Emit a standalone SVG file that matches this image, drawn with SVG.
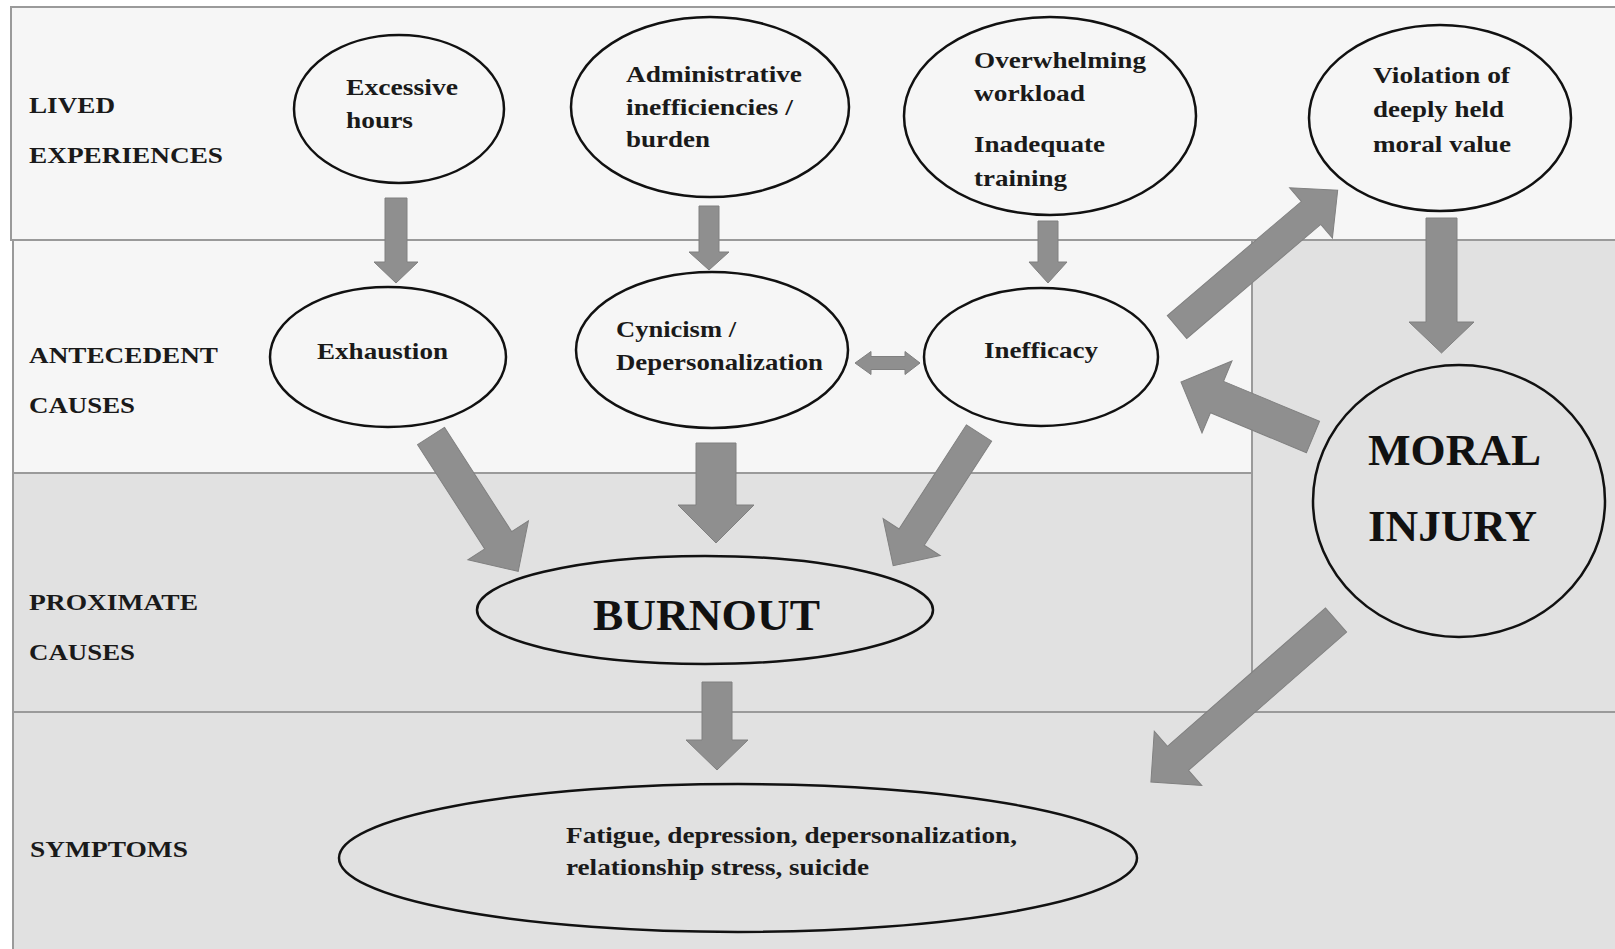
<svg xmlns="http://www.w3.org/2000/svg" width="1615" height="949" viewBox="0 0 1615 949">
<style>
.band-light{fill:#f6f6f6;stroke:#9a9a9a;stroke-width:2}
.band-dark{fill:#e1e1e1;stroke:#9a9a9a;stroke-width:2}
.node{fill:none;stroke:#111;stroke-width:2.5}
.t{font-family:"Liberation Serif","Times New Roman",serif;font-weight:bold;font-size:24px;fill:#1a1a1a}
.big{font-family:"Liberation Serif","Times New Roman",serif;font-weight:bold;font-size:45px;fill:#111}
.arrow{fill:#8f8f8f;stroke:#808080;stroke-width:1}
</style>
<g id="bands">
<rect class="band-light" x="11" y="7" width="1610" height="233"/>
<rect class="band-light" x="13" y="240" width="1239" height="233"/>
<rect class="band-dark" x="13" y="473" width="1239" height="239"/>
<rect class="band-dark" x="1252" y="240" width="370" height="472"/>
<rect class="band-dark" x="13" y="712" width="1610" height="245"/>
</g>
<g id="row-labels">
<text class="t" x="29" y="113" textLength="86" lengthAdjust="spacingAndGlyphs">LIVED</text>
<text class="t" x="29" y="163" textLength="194" lengthAdjust="spacingAndGlyphs">EXPERIENCES</text>
<text class="t" x="29" y="363" textLength="189" lengthAdjust="spacingAndGlyphs">ANTECEDENT</text>
<text class="t" x="29" y="413" textLength="106" lengthAdjust="spacingAndGlyphs">CAUSES</text>
<text class="t" x="29" y="610" textLength="169" lengthAdjust="spacingAndGlyphs">PROXIMATE</text>
<text class="t" x="29" y="660" textLength="106" lengthAdjust="spacingAndGlyphs">CAUSES</text>
<text class="t" x="30" y="857" textLength="158" lengthAdjust="spacingAndGlyphs">SYMPTOMS</text>
</g>
<g id="connectors">
<polygon class="arrow" points="385,198 407,198 407,262 418,262 396,283 374,262 385,262"/>
<polygon class="arrow" points="699,206 719,206 719,252 729,252 709,270 689,252 699,252"/>
<polygon class="arrow" points="1038,221 1058,221 1058,262 1067,262 1048,283 1029,262 1038,262"/>
<polygon class="arrow" points="855,363 871,351.5 871,356.5 905,356.5 905,351.5 920,363 905,374.5 905,369.5 871,369.5 871,374.5"/>
<polygon class="arrow" transform="translate(431,436) rotate(57.2)" points="0,-16 124,-16 124,-36 161,0 124,36 124,16 0,16"/>
<polygon class="arrow" points="696,443 736,443 736,505 754,505 716,543 678,505 696,505"/>
<polygon class="arrow" transform="translate(979,433) rotate(122.9)" points="0,-15 124,-15 124,-34 158,0 124,34 124,15 0,15"/>
<polygon class="arrow" points="702,682 732,682 732,740 748,740 717,770 686,740 702,740"/>
<polygon class="arrow" transform="translate(1177,327) rotate(-40.4)" points="0,-15 176,-15 176,-33 211,0 176,33 176,15 0,15"/>
<polygon class="arrow" points="1426,218 1457,218 1457,322 1474,322 1441.5,353 1409,322 1426,322"/>
<polygon class="arrow" transform="translate(1313,437) rotate(-157.4)" points="0,-17 104,-17 104,-39 143,0 104,39 104,17 0,17"/>
<polygon class="arrow" transform="translate(1336,620) rotate(138.8)" points="0,-16 210,-16 210,-36 246,0 210,36 210,16 0,16"/>
</g>
<g id="excessive-hours">
<ellipse class="node" cx="399" cy="109" rx="105" ry="74"/>
<text class="t" x="346" y="95" textLength="112" lengthAdjust="spacingAndGlyphs">Excessive</text>
<text class="t" x="346" y="128" textLength="67" lengthAdjust="spacingAndGlyphs">hours</text>
</g>
<g id="administrative">
<ellipse class="node" cx="710" cy="107" rx="139" ry="90"/>
<text class="t" x="626" y="82" textLength="176" lengthAdjust="spacingAndGlyphs">Administrative</text>
<text class="t" x="626" y="115" textLength="167" lengthAdjust="spacingAndGlyphs">inefficiencies /</text>
<text class="t" x="626" y="147" textLength="84" lengthAdjust="spacingAndGlyphs">burden</text>
</g>
<g id="workload">
<ellipse class="node" cx="1050" cy="116" rx="146" ry="99"/>
<text class="t" x="974" y="68" textLength="172" lengthAdjust="spacingAndGlyphs">Overwhelming</text>
<text class="t" x="974" y="101" textLength="111" lengthAdjust="spacingAndGlyphs">workload</text>
<text class="t" x="974" y="152" textLength="131" lengthAdjust="spacingAndGlyphs">Inadequate</text>
<text class="t" x="974" y="186" textLength="93" lengthAdjust="spacingAndGlyphs">training</text>
</g>
<g id="violation">
<ellipse class="node" cx="1440" cy="118" rx="131" ry="93"/>
<text class="t" x="1373" y="83" textLength="137" lengthAdjust="spacingAndGlyphs">Violation of</text>
<text class="t" x="1373" y="117" textLength="131" lengthAdjust="spacingAndGlyphs">deeply held</text>
<text class="t" x="1373" y="152" textLength="138" lengthAdjust="spacingAndGlyphs">moral value</text>
</g>
<g id="exhaustion">
<ellipse class="node" cx="388" cy="357" rx="118" ry="70"/>
<text class="t" x="317" y="359" textLength="131" lengthAdjust="spacingAndGlyphs">Exhaustion</text>
</g>
<g id="cynicism">
<ellipse class="node" cx="712" cy="350" rx="136" ry="78"/>
<text class="t" x="616" y="337" textLength="120" lengthAdjust="spacingAndGlyphs">Cynicism /</text>
<text class="t" x="616" y="370" textLength="207" lengthAdjust="spacingAndGlyphs">Depersonalization</text>
</g>
<g id="inefficacy">
<ellipse class="node" cx="1041" cy="357" rx="117" ry="69"/>
<text class="t" x="984" y="358" textLength="114" lengthAdjust="spacingAndGlyphs">Inefficacy</text>
</g>
<g id="moral-injury">
<ellipse class="node" cx="1459" cy="501" rx="146" ry="136"/>
<text class="big" x="1368" y="465" textLength="173" lengthAdjust="spacingAndGlyphs">MORAL</text>
<text class="big" x="1368" y="541" textLength="169" lengthAdjust="spacingAndGlyphs">INJURY</text>
</g>
<g id="burnout">
<ellipse class="node" cx="705" cy="610" rx="228" ry="54"/>
<text class="big" x="593" y="630" textLength="227" lengthAdjust="spacingAndGlyphs">BURNOUT</text>
</g>
<g id="symptoms">
<ellipse class="node" cx="738" cy="858" rx="399" ry="74"/>
<text class="t" x="566" y="843" textLength="451" lengthAdjust="spacingAndGlyphs">Fatigue, depression, depersonalization,</text>
<text class="t" x="566" y="875" textLength="303" lengthAdjust="spacingAndGlyphs">relationship stress, suicide</text>
</g>
</svg>
